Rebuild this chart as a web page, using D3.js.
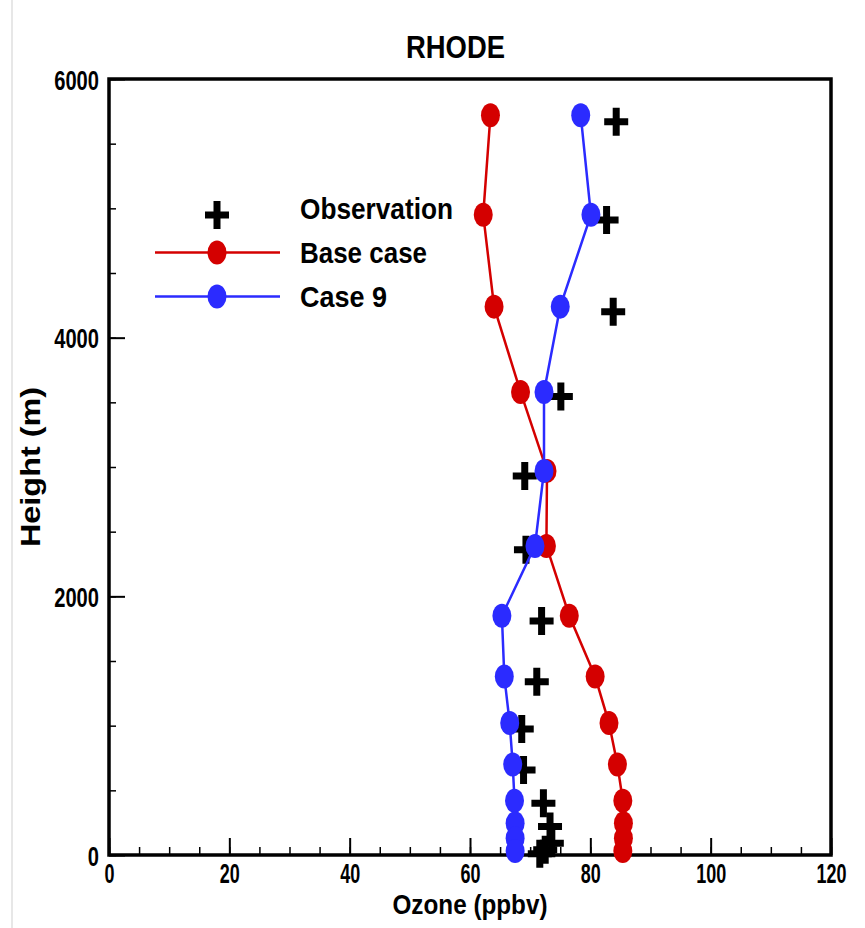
<!DOCTYPE html>
<html>
<head>
<meta charset="utf-8">
<script src="https://cdn.jsdelivr.net/npm/d3@7"></script>
<style>
  html, body { margin: 0; padding: 0; background: #fff; }
  svg { display: block; }
  text { font-family: "Liberation Sans", Arial, Helvetica, sans-serif; font-weight: bold; fill: #000; }
</style>
</head>
<body>
<svg id="chart" width="865" height="928"></svg>
<script>
// ---- Data ----
const title = "RHODE";
const xTickLabels = [0, 20, 40, 60, 80, 100, 120];
const yTickLabels = [0, 2000, 4000, 6000];

const obsOzone  = [84.3, 82.7, 83.8, 75.1, 69.1, 69.3, 71.9, 71.1, 68.6, 68.9, 72.2, 73.3, 73.6, 72.5, 71.6];
const obsHeight = [5670, 4910, 4200, 3545, 2930, 2360, 1810, 1340, 975, 657, 400, 220, 90, 40, 10];

const modelHeight = [5720, 4950, 4240, 3580, 2970, 2390, 1850, 1380, 1020, 700, 420, 245, 130, 30];
const baseOzone   = [63.4, 62.2, 64.0, 68.4, 72.8, 72.7, 76.5, 80.8, 83.1, 84.5, 85.4, 85.5, 85.5, 85.4];
const case9Ozone  = [78.4, 80.1, 75.0, 72.3, 72.3, 70.8, 65.3, 65.7, 66.6, 67.1, 67.4, 67.5, 67.5, 67.5];

const seriesNames = ["Observation", "Base case", "Case 9"];
const red = "#d40000", blue = "#2b2bff";

// ---- Layout ----
const svg = d3.select("#chart");
const L = 109, R = 831, T = 79, B = 855;
const x = d3.scaleLinear().domain([0, 120]).range([L, R]);
const y = d3.scaleLinear().domain([0, 6000]).range([B, T]);

// faint left border line
svg.append("line").attr("x1", 12).attr("x2", 12).attr("y1", 0).attr("y2", 928)
  .attr("stroke", "#cfcfcf").attr("stroke-width", 1);

// minor ticks
svg.append("g").attr("transform", `translate(0,${B})`)
  .call(d3.axisBottom(x).tickValues(d3.range(0, 121, 5)).tickSize(-8).tickFormat(""))
  .call(g => g.select(".domain").remove())
  .call(g => g.selectAll("line").attr("stroke", "#000").attr("stroke-width", 1.5));
svg.append("g").attr("transform", `translate(${L},0)`)
  .call(d3.axisLeft(y).tickValues(d3.range(0, 6001, 500)).tickSize(-7).tickFormat(""))
  .call(g => g.select(".domain").remove())
  .call(g => g.selectAll("line").attr("stroke", "#000").attr("stroke-width", 1.5));

// major ticks + labels
const xa = svg.append("g").attr("transform", `translate(0,${B})`)
  .call(d3.axisBottom(x).tickValues(xTickLabels).tickSize(-17).tickFormat(d3.format("d")))
  .call(g => g.select(".domain").remove())
  .call(g => g.selectAll("line").attr("stroke", "#000").attr("stroke-width", 2));
xa.selectAll("text")
  .attr("y", 28).attr("dy", null)
  .attr("font-size", 28).attr("font-family", null)
  .style("font-family", '"Liberation Sans", Arial, sans-serif').style("font-weight", "bold")
  .attr("textLength", d => String(d).length * 10)
  .attr("lengthAdjust", "spacingAndGlyphs");

const ya = svg.append("g").attr("transform", `translate(${L},0)`)
  .call(d3.axisLeft(y).tickValues(yTickLabels).tickSize(-16).tickFormat(d3.format("d")))
  .call(g => g.select(".domain").remove())
  .call(g => g.selectAll("line").attr("stroke", "#000").attr("stroke-width", 2));
ya.selectAll("text")
  .attr("x", -10).attr("dy", "0.36em")
  .attr("font-size", 28).attr("font-family", null)
  .style("font-family", '"Liberation Sans", Arial, sans-serif').style("font-weight", "bold")
  .attr("textLength", d => String(d).length * 11.2)
  .attr("lengthAdjust", "spacingAndGlyphs");

// frame
svg.append("path")
  .attr("d", `M${L},${T}H${R}V${B}H${L}Z`)
  .attr("fill", "none").attr("stroke", "#000").attr("stroke-width", 3.5)
  .attr("stroke-linejoin", "miter");

// cross symbol
const crossPath = "M-12,0H12M0,-14V14";

// observations
const obs = obsOzone.map((v, i) => ({ v, h: obsHeight[i] }));
svg.append("g").selectAll("path").data(obs).join("path")
  .attr("transform", d => `translate(${x(d.v)},${y(d.h)})`)
  .attr("d", crossPath).attr("stroke", "#000").attr("stroke-width", 7).attr("fill", "none");

// model series
function drawSeries(vals, color) {
  const pts = vals.map((v, i) => ({ v, h: modelHeight[i] }));
  const line = d3.line().x(d => x(d.v)).y(d => y(d.h));
  const g = svg.append("g");
  g.append("path").datum(pts).attr("d", line)
    .attr("fill", "none").attr("stroke", color).attr("stroke-width", 2.5);
  g.selectAll("ellipse").data(pts).join("ellipse")
    .attr("cx", d => x(d.v)).attr("cy", d => y(d.h))
    .attr("rx", 9.5).attr("ry", 12).attr("fill", color);
}
drawSeries(baseOzone, red);
drawSeries(case9Ozone, blue);

// title
svg.append("text").attr("x", 455.5).attr("y", 58).attr("text-anchor", "middle")
  .attr("font-size", 32).attr("textLength", 99).attr("lengthAdjust", "spacingAndGlyphs")
  .text(title);

// axis titles
svg.append("text").attr("x", 470).attr("y", 914).attr("text-anchor", "middle")
  .attr("font-size", 27).attr("textLength", 155).attr("lengthAdjust", "spacingAndGlyphs")
  .text("Ozone (ppbv)");
svg.append("text").attr("transform", "translate(40,467) rotate(-90)").attr("text-anchor", "middle")
  .attr("font-size", 27).attr("textLength", 160).attr("lengthAdjust", "spacingAndGlyphs")
  .text("Height (m)");

// legend
const lg = svg.append("g");
lg.append("path").attr("transform", "translate(217,215)").attr("d", crossPath)
  .attr("stroke", "#000").attr("stroke-width", 7).attr("fill", "none");
[[252.5, red], [296.5, blue]].forEach(([ly, c]) => {
  lg.append("line").attr("x1", 155).attr("x2", 280).attr("y1", ly).attr("y2", ly)
    .attr("stroke", c).attr("stroke-width", 2.5);
  lg.append("ellipse").attr("cx", 217).attr("cy", ly).attr("rx", 9.5).attr("ry", 12).attr("fill", c);
});
const legTexts = [[218.5, 153], [263.3, 127], [306.6, 87]];
legTexts.forEach(([by, w], i) => {
  lg.append("text").attr("x", 300).attr("y", by).attr("font-size", 30)
    .attr("textLength", w).attr("lengthAdjust", "spacingAndGlyphs").text(seriesNames[i]);
});
</script>
</body>
</html>
